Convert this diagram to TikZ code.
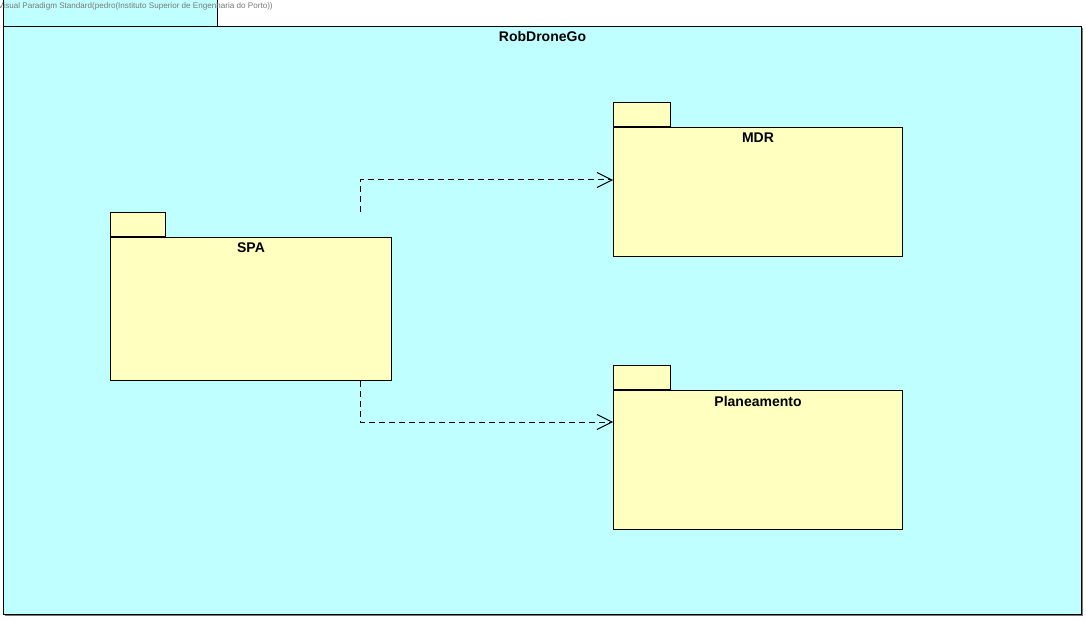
\documentclass[tikz,border=0pt]{standalone}
\usepackage{fontspec}
\setmainfont{Liberation Sans}
\usetikzlibrary{arrows.meta,calc}
\definecolor{pkgcyan}{RGB}{192,255,255}
\definecolor{pkgyellow}{RGB}{255,255,192}
\definecolor{wmgray}{RGB}{120,120,120}
\tikzset{
  outerbody/.style={draw=black, fill=pkgcyan, line width=1pt, anchor=north west, inner sep=0pt},
  pkgbody/.style={draw=black, fill=pkgyellow, line width=1pt, anchor=north west, inner sep=0pt},
  pkgtab/.style={draw=black, fill=pkgyellow, line width=1pt, anchor=south west, inner sep=0pt, minimum width=56pt, minimum height=24pt},
  pkglabel/.style={anchor=base, font=\fontsize{14}{16}\selectfont\bfseries, inner sep=0pt},
  dep/.style={draw=black, line width=1pt, dash pattern=on 6pt off 4pt, -{Straight Barb[length=15pt,width=15pt,line width=1pt]}},
}
\begin{document}
\begin{tikzpicture}[x=1pt,y=-1pt]
\clip (0,0) rectangle (1086,620);
\fill[white] (0,0) rectangle (1086,620);
% outer package
\fill[wmgray] (5,28) rectangle (1083,616);
\node[outerbody, minimum width=214pt, minimum height=30pt] (outertab) at (3,-4) {};
\node[outerbody, minimum width=1078pt, minimum height=588pt] (outer) at (3,26) {};
\node[anchor=base west, text=wmgray, font=\fontsize{8.1}{9}\selectfont, inner sep=0pt] (wm) at (-2,8.5) {Visual Paradigm Standard(pedro(Instituto Superior de Engenharia do Porto))};
\node[pkglabel] (outerlabel) at ($(outer.north)+(0,16)$) {RobDroneGo};
% SPA
\node[pkgbody, minimum width=281pt, minimum height=143pt] (spa) at (110,237) {};
\node[pkgtab, minimum width=55pt] (spatab) at (spa.north west) {};
\node[pkglabel] (spalabel) at ($(spa.north)+(0,16)$) {SPA};
% MDR
\node[pkgbody, minimum width=289pt, minimum height=129pt] (mdr) at (613,127) {};
\node[pkgtab, minimum width=57pt] (mdrtab) at (mdr.north west) {};
\node[pkglabel] (mdrlabel) at ($(mdr.north)+(0,16)$) {MDR};
% Planeamento
\node[pkgbody, minimum width=289pt, minimum height=139pt] (plan) at (613,390) {};
\node[pkgtab, minimum width=57pt] (plantab) at (plan.north west) {};
\node[pkglabel] (planlabel) at ($(plan.north)+(0,16)$) {Planeamento};
% dependencies
\coordinate (s1) at ($(spatab.north west)+(250,0)$);
\coordinate (s2) at ($(spa.south west)+(250,0)$);
\coordinate (t1) at ($(mdr.north west)+(0,53)$);
\coordinate (t2) at ($(plan.north west)+(0,32)$);
\draw[dep] (s1) |- (t1);
\draw[dep] (s2) |- (t2);
\end{tikzpicture}
\end{document}
